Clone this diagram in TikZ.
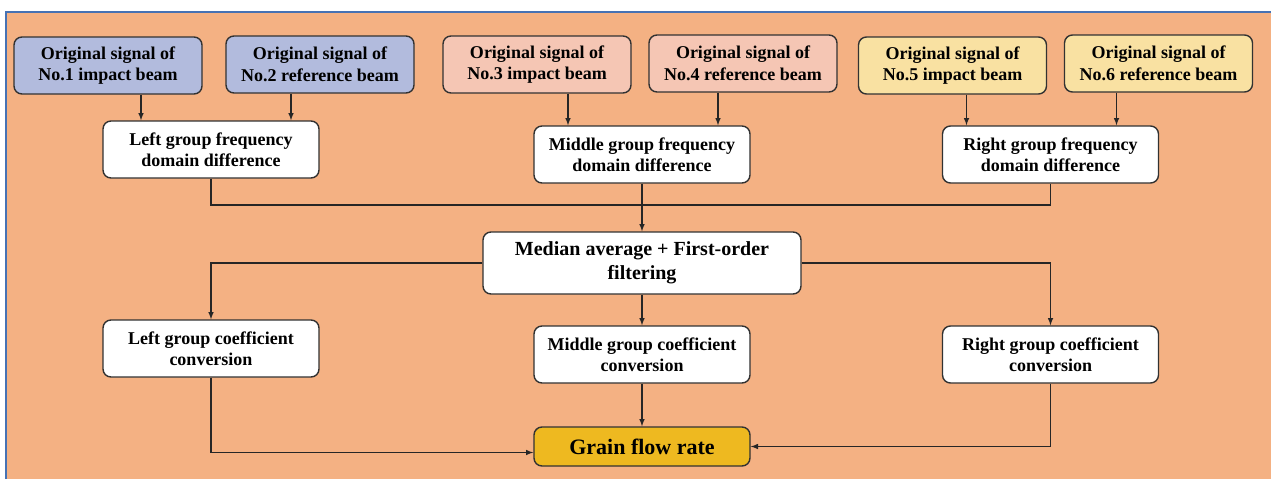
\documentclass[tikz,border=0pt]{standalone}
\usepackage{fontspec}
\setmainfont{Liberation Serif}
\usepackage{tikz}
\usetikzlibrary{arrows, positioning}
\usepackage{xcolor}
\definecolor{bgorange}{RGB}{244,177,131}
\definecolor{frameblue}{RGB}{70,114,180}
\definecolor{sigblue}{RGB}{178,187,221}
\definecolor{sigpink}{RGB}{245,198,180}
\definecolor{sigyellow}{RGB}{249,225,162}
\definecolor{outgold}{RGB}{238,185,32}
\definecolor{edge}{RGB}{50,50,50}
\tikzset{
	block/.style={draw=edge, line width=1.4pt, rounded corners=8pt, align=center, font=\bfseries\fontsize{18}{21.5}\selectfont, inner sep=2pt},
	signal/.style={block, minimum width=188pt, minimum height=57pt},
	stage/.style={block, fill=white, minimum width=216pt, minimum height=57pt},
	flow/.style={-latex, line width=1.5pt, draw=black!85}
}

\begin{document}
\begin{tikzpicture}[x=1pt, y=-1pt]
		\useasboundingbox (0,0) rectangle (1271,479);
		\fill[bgorange] (6,12) rectangle (1271,479);
		\draw[frameblue, line width=1.2pt] (6,479) -- (6,12) -- (1271,12);
		
		% original signals
		\node[signal, fill=sigblue] (s1) at (108,65.5) {Original signal of\\No.1 impact beam};
		\node[signal, fill=sigblue] (s2) at (320,64.5) {Original signal of\\No.2 reference beam};
		\node[signal, fill=sigpink] (s3) at (537,64.5) {Original signal of\\No.3 impact beam};
		\node[signal, fill=sigpink] (s4) at (743,63.5) {Original signal of\\No.4 reference beam};
		\node[signal, fill=sigyellow] (s5) at (952.5,65.5) {Original signal of\\No.5 impact beam};
		\node[signal, fill=sigyellow] (s6) at (1158.5,63.5) {Original signal of\\No.6 reference beam};
		
		% frequency domain difference
		\node[stage] (lf) at (211,149.5) {Left group frequency\\domain difference};
		\node[stage] (mf) at (642,154.5) {Middle group frequency\\domain difference};
		\node[stage] (rf) at (1050.5,154.5) {Right group frequency\\domain difference};
		
		\node[block, fill=white, minimum width=318pt, minimum height=62pt, font=\bfseries\fontsize{20}{24}\selectfont] (med) at (642,263) {Median average + First-order\\filtering};
		
		% coefficient conversion
		\node[stage] (lc) at (211,348.5) {Left group coefficient\\conversion};
		\node[stage] (mc) at (642,354.5) {Middle group coefficient\\conversion};
		\node[stage] (rc) at (1050.5,354.5) {Right group coefficient\\conversion};
		
		\node[block, fill=outgold, minimum width=216pt, minimum height=39pt, font=\bfseries\fontsize{22}{26}\selectfont] (grain) at (642,446.5) {Grain flow rate};
		
		\draw[flow] ([xshift=33pt]s1.south) -- ([xshift=33pt]s1.south |- lf.north);
		\draw[flow] ([xshift=-29pt]s2.south) -- ([xshift=-29pt]s2.south |- lf.north);
		\draw[flow] ([xshift=31pt]s3.south) -- ([xshift=31pt]s3.south |- mf.north);
		\draw[flow] ([xshift=-25pt]s4.south) -- ([xshift=-25pt]s4.south |- mf.north);
		\draw[flow] ([xshift=14pt]s5.south) -- ([xshift=14pt]s5.south |- rf.north);
		\draw[flow] ([xshift=-42pt]s6.south) -- ([xshift=-42pt]s6.south |- rf.north);
		
		\coordinate (merge) at (642,205);
		\draw[line width=1.5pt, draw=black!85] (lf.south) |- (merge) -| (rf.south);
		\draw[flow] (mf.south) -- (med.north);
		
		\draw[flow] (med.west) -| (lc.north);
		\draw[flow] (med.south) -- (mc.north);
		\draw[flow] (med.east) -| (rc.north);
		
		\draw[flow] (lc.south) |- ([yshift=-6pt]grain.west);
		\draw[flow] (mc.south) -- (grain.north);
		\draw[flow] (rc.south) |- (grain.east);
	\end{tikzpicture}
\end{document}
